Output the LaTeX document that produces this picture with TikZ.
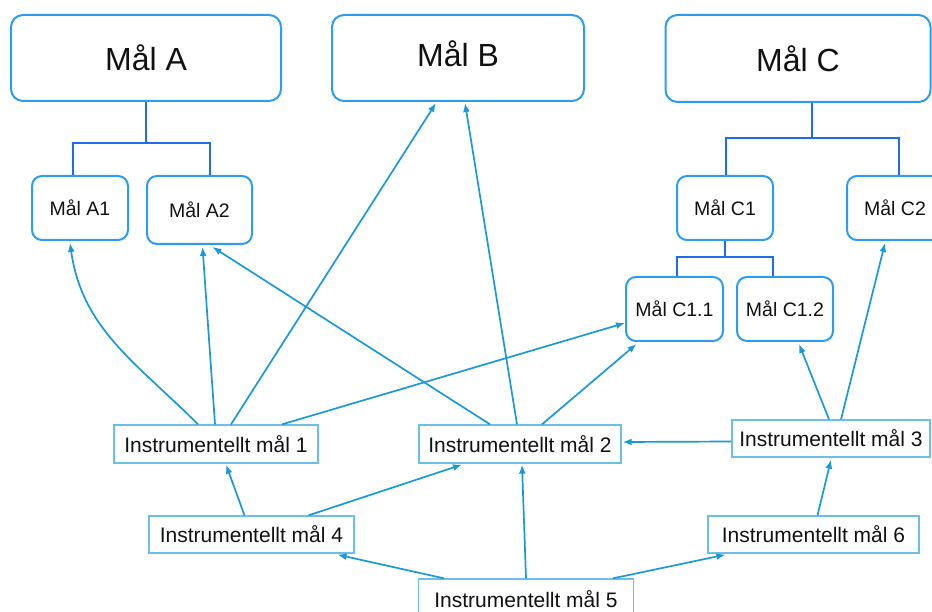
\documentclass[tikz,border=0pt]{standalone}
\usepackage{fontspec}
\setmainfont{Liberation Sans}
\usepackage{tikz}
\usetikzlibrary{arrows.meta,positioning}
\definecolor{MaalEdge}{HTML}{2B9CF0}
\definecolor{MaalTree}{HTML}{1F6BEA}
\definecolor{InstEdge}{HTML}{6CBFE6}
\definecolor{InstArrow}{HTML}{1A99D6}
\definecolor{MaalInk}{HTML}{111111}
\begin{document}
\begin{tikzpicture}[x=1pt,y=1pt,
  bigmaal/.style={draw=MaalEdge,line width=2pt,rounded corners=12pt,inner sep=0pt,text=MaalInk,font=\fontsize{32}{38}\selectfont},
  smallmaal/.style={draw=MaalEdge,line width=2pt,rounded corners=10pt,inner sep=0pt,text=MaalInk,font=\fontsize{19.5}{23}\selectfont},
  instbox/.style={draw=InstEdge,line width=1.3pt,inner sep=0pt,text=MaalInk,font=\fontsize{21}{25}\selectfont},
  tree/.style={draw=MaalTree,line width=1.8pt},
  link/.style={draw=InstArrow,line width=1.7pt,-{Latex[length=9pt,width=7pt]}}]
\clip (0,0) rectangle (932,-612);
% top level
\node[bigmaal,minimum width=270pt,minimum height=86pt] (malA) at (146,-58) {Mål\ A};
\node[bigmaal,minimum width=252pt,minimum height=86pt,text depth=8pt] (malB) at (458,-58) {Mål B};
\node[bigmaal,minimum width=265pt,minimum height=87pt] (malC) at (798,-58.5) {Mål C};
% sub goals
\node[smallmaal,minimum width=96pt,minimum height=64pt] (malA1) at (80,-208) {Mål A1};
\node[smallmaal,minimum width=105pt,minimum height=68pt] (malA2) at (199.5,-210) {Mål A2};
\node[smallmaal,minimum width=96pt,minimum height=64pt] (malC1) at (725,-208) {Mål C1};
\node[smallmaal,minimum width=96pt,minimum height=64pt] (malC2) at (895,-208) {Mål C2};
\node[smallmaal,minimum width=97pt,minimum height=64pt] (malC11) at (674.5,-309) {Mål C1.1};
\node[smallmaal,minimum width=96pt,minimum height=64pt] (malC12) at (785,-309) {Mål C1.2};
% instrumental goals
\node[instbox,minimum width=204pt,minimum height=38pt] (inst1) at (216,-444) {Instrumentellt mål 1};
\node[instbox,minimum width=202pt,minimum height=38pt] (inst2) at (520,-444) {Instrumentellt mål 2};
\node[instbox,minimum width=198pt,minimum height=37pt] (inst3) at (831,-438.5) {Instrumentellt mål 3};
\node[instbox,minimum width=205pt,minimum height=37pt] (inst4) at (251.5,-534.5) {Instrumentellt mål 4};
\node[instbox,minimum width=215pt,minimum height=40pt] (inst5) at (526,-599) {Instrumentellt mål 5};
\node[instbox,minimum width=211pt,minimum height=37pt] (inst6) at (813.5,-534.5) {Instrumentellt mål 6};
% hierarchy lines
\draw[tree] (malA.south) -- ++(0,-41) coordinate (jA);
\draw[tree] ([xshift=-7pt]malA1.north) |- (jA) -| ([xshift=10.5pt]malA2.north);
\draw[tree] ([xshift=14pt]malC.south) -- ++(0,-35) coordinate (jC);
\draw[tree] ([xshift=1pt]malC1.north) |- (jC) -| ([xshift=4pt]malC2.north);
\draw[tree] (malC1.south) -- ++(0,-16) coordinate (jC1);
\draw[tree] ([xshift=2.5pt]malC11.north) |- (jC1) -| ([xshift=-12pt]malC12.north);
% arrows
\draw[link] ([xshift=-18pt]inst1.north) to[out=135,in=-82] ([xshift=-10pt,yshift=-2pt]malA1.south);
\draw[link] ([xshift=-1pt]inst1.north) -- ([xshift=3pt,yshift=-2pt]malA2.south);
\draw[link] ([xshift=15pt]inst1.north) -- ([xshift=-22pt,yshift=-1pt]malB.south);
\draw[link] ([xshift=66pt]inst1.north) -- ([yshift=-14pt]malC11.west);
\draw[link] ([xshift=-30pt]inst2.north) -- ([xshift=13pt,yshift=-2pt]malA2.south);
\draw[link] ([xshift=-3pt]inst2.north) -- ([xshift=7pt,yshift=-1pt]malB.south);
\draw[link] ([xshift=22pt]inst2.north) -- ([xshift=-38pt,yshift=-2pt]malC11.south);
\draw[link] ([yshift=-3pt]inst3.west) -- ([xshift=1pt,yshift=2pt]inst2.east);
\draw[link] ([xshift=-2pt]inst3.north) -- ([xshift=14pt,yshift=-2pt]malC12.south);
\draw[link] ([xshift=10pt]inst3.north) -- ([xshift=-10pt,yshift=-2pt]malC2.south);
\draw[link] ([xshift=-7pt]inst4.north) -- ([xshift=10pt,yshift=-1pt]inst1.south);
\draw[link] ([xshift=57pt]inst4.north) -- ([xshift=-58pt,yshift=-1pt]inst2.south);
\draw[link] ([xshift=-82pt]inst5.north) -- ([xshift=86pt,yshift=-1pt]inst4.south);
\draw[link] (inst5.north) -- ([xshift=2pt,yshift=-1pt]inst2.south);
\draw[link] ([xshift=87pt]inst5.north) -- ([xshift=-88pt,yshift=-1pt]inst6.south);
\draw[link] ([xshift=4pt]inst6.north) -- ([yshift=-2pt]inst3.south);
\end{tikzpicture}
\end{document}
